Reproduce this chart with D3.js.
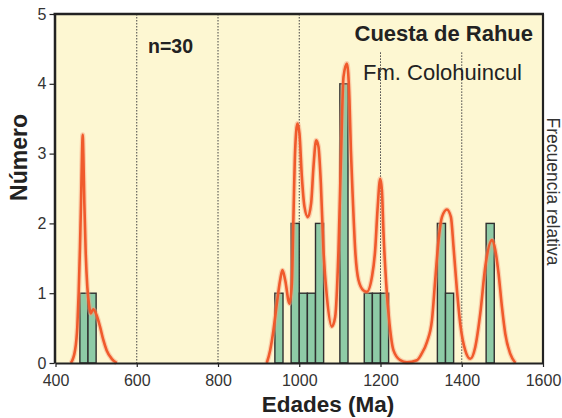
<!DOCTYPE html>
<html lang="es">
<head>
<meta charset="utf-8">
<title>Cuesta de Rahue</title>
<script src="https://cdn.jsdelivr.net/npm/d3@7"></script>
<style>
  body { margin: 0; background: #fff; }
  svg { font-family: "Liberation Sans", Arial, sans-serif; }
  .tick text { font-size: 16px; fill: #333; font-family: "Liberation Sans", Arial, sans-serif; }
</style>
</head>
<body>
<script>
// histograma: inicio de cada clase (Ma), ancho 20 Ma
var binInicio = [460, 480, 940, 980, 1000, 1020, 1040, 1100, 1160, 1180, 1200, 1340, 1360, 1460];
var conteo    = [1,   1,   1,   2,   1,    1,    2,    4,    1,    1,    1,    2,    1,    2];
var anchoBin = 20;

// curva de probabilidad relativa (null = corte)
var curvaEdad = [438, 448, 453.7, 457, 460.3, 462.8, 465.3, 467, 468.5, 471, 474.4, 478.3, 483.3, 486.7,
  493, 501.5, 509.6, 517.7, 526, 538.4, 551, null,
  920, 928.3, 936.5, 944.8, 953, 958.6, 965.3, 975.9, 981.8, 985.7, 989.9, 995.6, 1000.5, 1006.4,
  1012.8, 1021.2, 1029.3, 1035, 1041.6, 1047.3, 1053.2, 1059.6, 1068, 1080.3, 1088.4, 1096.6,
  1103.2, 1108.9, 1117.2, 1123.6, 1127.1, 1132, 1137.7, 1145.8, 1158.1, 1166.5, 1178.8, 1186.9,
  1192.6, 1199.3, 1203.4, 1207.4, 1214, 1222.2, 1232, 1248.5, 1265, 1289.7, 1300, 1314.3, 1326.6,
  1334.7, 1342.9, 1351.2, 1363.5, 1373.4, 1379.8, 1388.2, 1396.3, 1408.6, 1420.9, 1433.3, 1445.6,
  1457.9, 1474.4, 1482.5, 1490.6, 1499, 1507.1, 1519.5, 1532];
var curvaFrec = [0, 0.18, 0.52, 1.0, 1.66, 2.29, 3.0, 3.27, 3.0, 2.29, 1.57, 1.09, 0.80, 0.71,
  0.77, 0.68, 0.52, 0.33, 0.18, 0.06, 0, null,
  0, 0.18, 0.47, 0.85, 1.19, 1.33, 1.19, 0.85, 1.14, 2.09, 3.05, 3.43, 3.29, 2.67,
  2.24, 2.09, 2.29, 2.81, 3.19, 3.10, 2.57, 1.62, 0.95, 0.52, 0.66, 1.62,
  3.05, 4.10, 4.29, 3.77, 3.05, 2.33, 1.62, 1.19, 1.04, 1.02, 1.23, 1.62,
  2.19, 2.64, 2.48, 1.86, 1.14, 0.56, 0.18, 0.04, 0.01, 0.04, 0.12, 0.30, 0.61,
  1.19, 1.76, 2.09, 2.20, 2.09, 1.66, 1.04, 0.56, 0.18, 0.06, 0.23, 0.71,
  1.38, 1.76, 1.62, 1.28, 0.80, 0.42, 0.13, 0];

var xTicks = [400, 600, 800, 1000, 1200, 1400, 1600];
var yTicks = [0, 1, 2, 3, 4, 5];
var guias = [600, 800, 1000, 1200, 1400];
var guiaTope = [5, 5, 5, 4.45, 4.45];

var W = 562, H = 418;
var margin = {top: 14, right: 19, bottom: 55, left: 55.5};

var svg = d3.select("body").append("svg")
  .attr("width", W)
  .attr("height", H);

var x = d3.scaleLinear().domain([400, 1600]).range([margin.left, W - margin.right]);
var y = d3.scaleLinear().domain([0, 5]).range([H - margin.bottom, margin.top]);

// fondo
svg.append("rect")
  .attr("x", x(400)).attr("y", y(5))
  .attr("width", x(1600) - x(400)).attr("height", y(0) - y(5))
  .attr("fill", "#fdf7d2");

// lineas punteadas
svg.selectAll(".guia")
  .data(guias)
  .enter().append("line")
  .attr("class", "guia")
  .attr("x1", function(d) { return x(d); })
  .attr("x2", function(d) { return x(d); })
  .attr("y1", function(d, i) { return y(guiaTope[i]); })
  .attr("y2", y(0))
  .attr("stroke", "#444")
  .attr("stroke-width", 1)
  .attr("stroke-dasharray", "1.5,1.5");

// barras
svg.selectAll(".barra")
  .data(binInicio)
  .enter().append("rect")
  .attr("class", "barra")
  .attr("x", function(d) { return x(d); })
  .attr("y", function(d, i) { return y(conteo[i]); })
  .attr("width", function(d) { return x(d + anchoBin) - x(d); })
  .attr("height", function(d, i) { return y(0) - y(conteo[i]); })
  .attr("fill", "#8ecba6")
  .attr("stroke", "#2f2f2f")
  .attr("stroke-width", 1.4);

// curva
var puntos = curvaEdad.map(function(d, i) { return [d, curvaFrec[i]]; });
var linea = d3.line()
  .defined(function(d) { return d[0] != null; })
  .x(function(d) { return x(d[0]); })
  .y(function(d) { return y(d[1]); })
  .curve(d3.curveMonotoneX);

svg.append("path")
  .datum(puntos)
  .attr("d", linea)
  .attr("fill", "none")
  .attr("stroke", "#f7a07c")
  .attr("stroke-width", 5)
  .attr("stroke-opacity", 0.45);

svg.append("path")
  .datum(puntos)
  .attr("d", linea)
  .attr("fill", "none")
  .attr("stroke", "#f05a2c")
  .attr("stroke-width", 2.6)
  .attr("stroke-linejoin", "round");

// textos
svg.append("text")
  .attr("x", 533).attr("y", 41)
  .attr("text-anchor", "end")
  .attr("font-size", 22).attr("font-weight", "bold")
  .attr("fill", "#222")
  .text("Cuesta de Rahue");

svg.append("text")
  .attr("x", 522).attr("y", 80)
  .attr("text-anchor", "end")
  .attr("font-size", 22)
  .attr("fill", "#222")
  .text("Fm. Colohuincul");

svg.append("text")
  .attr("x", 148).attr("y", 53)
  .attr("font-size", 19.5).attr("font-weight", "bold")
  .attr("fill", "#222")
  .text("n=30");

// ejes
var xAxis = d3.axisBottom(x).tickValues(xTicks).tickFormat(d3.format("d"))
  .tickSize(4).tickPadding(8).tickSizeOuter(0);
var yAxis = d3.axisLeft(y).tickValues(yTicks).tickFormat(d3.format("d"))
  .tickSize(5).tickPadding(3).tickSizeOuter(0);

var gx = svg.append("g")
  .attr("transform", "translate(0," + y(0) + ")")
  .call(xAxis);
gx.select(".domain").attr("stroke", "#222").attr("stroke-width", 2);
gx.selectAll(".tick line").attr("stroke", "#222").attr("stroke-width", 1.2);

var gy = svg.append("g")
  .attr("transform", "translate(" + (x(400) - 1) + ",0)")
  .call(yAxis);
gy.select(".domain").attr("stroke", "#222").attr("stroke-width", 2.5);
gy.selectAll(".tick line").attr("stroke", "#222").attr("stroke-width", 1.2);

// marco superior y derecho
svg.append("line")
  .attr("x1", x(400) - 2).attr("x2", x(1600) + 1)
  .attr("y1", y(5)).attr("y2", y(5))
  .attr("stroke", "#222").attr("stroke-width", 2.5);
svg.append("line")
  .attr("x1", x(1600)).attr("x2", x(1600))
  .attr("y1", y(5)).attr("y2", y(0))
  .attr("stroke", "#222").attr("stroke-width", 2.2);

// titulos de ejes
svg.append("text")
  .attr("x", 328).attr("y", 412)
  .attr("text-anchor", "middle")
  .attr("font-size", 22.5).attr("font-weight", "bold")
  .attr("fill", "#222")
  .text("Edades (Ma)");

svg.append("text")
  .attr("transform", "translate(27,157.5) rotate(-90)")
  .attr("text-anchor", "middle")
  .attr("font-size", 23).attr("font-weight", "bold")
  .attr("fill", "#222")
  .text("Número");

svg.append("text")
  .attr("transform", "translate(547,191.5) rotate(90)")
  .attr("text-anchor", "middle")
  .attr("font-size", 17.5)
  .attr("fill", "#333")
  .text("Frecuencia relativa");
</script>
</body>
</html>
